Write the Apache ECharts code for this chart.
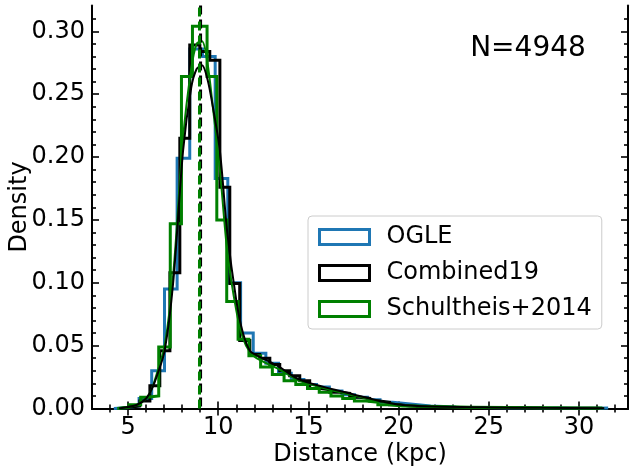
<!DOCTYPE html>
<html><head><meta charset="utf-8">
<script src="https://cdn.jsdelivr.net/npm/echarts@6/dist/echarts.min.js"></script>
<style>html,body{margin:0;padding:0;background:#fff}#c{width:630px;height:471px}</style>
</head><body><div id="c"></div>
<script>
// ---- data ----
const xTicks = [5, 10, 15, 20, 25, 30];
const xMinorTicks = [4,6,7,8,9,11,12,13,14,16,17,18,19,21,22,23,24,26,27,28,29,31,32];
const yTicks = [0, 0.05, 0.10, 0.15, 0.20, 0.25, 0.30];
const yMinorTicks = [0.01,0.02,0.03,0.04,0.06,0.07,0.08,0.09,0.11,0.12,0.13,0.14,0.16,0.17,0.18,0.19,0.21,0.22,0.23,0.24,0.26,0.27,0.28,0.29,0.31];

// OGLE histogram: bin edges and densities
const ogleEdges = [4.21,4.91,5.61,6.31,7.02,7.72,8.42,9.13,9.83,10.53,11.24,11.94,12.64,13.34,14.05,14.75,15.45,16.16,16.86,17.56,18.27,18.97,19.67,20.37,21.08,21.78,22.48,23.19,23.89,24.59,25.29,26.00,26.70,27.40,28.11,28.81,29.51,30.21,30.92,31.62];
const ogleDens  = [0.0005,0.002,0.008,0.030,0.095,0.199,0.286,0.280,0.183,0.100,0.060,0.044,0.036,0.028,0.023,0.019,0.017,0.014,0.011,0.009,0.007,0.005,0.004,0.003,0.002,0.0015,0.001,0.0008,0.0008,0.0005,0.0004,0.0005,0.0003,0.0002,0.0003,0.0002,0.0001,0.0002,0.0003];

// Combined19 histogram
const combEdges = [4.55,5.10,5.65,6.21,6.76,7.32,7.87,8.42,8.98,9.53,10.09,10.64,11.19,11.75,12.30,12.86,13.41,13.96,14.52,15.07,15.63,16.18,16.73,17.29,17.84,18.40,18.95,19.50,20.06,20.61,21.17,21.72,22.27,22.83,23.38,23.94,24.49,25.04,25.60,26.15,26.71,27.26,27.81,28.37,28.92,29.48,30.03,30.58,31.14];
const combDens  = [0.001,0.002,0.006,0.018,0.046,0.108,0.215,0.289,0.284,0.277,0.176,0.0995,0.054,0.043,0.040,0.035,0.030,0.026,0.022,0.016,0.015,0.013,0.012,0.009,0.008,0.006,0.005,0.003,0.002,0.0015,0.0012,0.001,0.0008,0.0007,0.0006,0.0005,0.0004,0.0004,0.0003,0.0003,0.0002,0.0002,0.0002,0.0001,0.0002,0.0001,0.0001,0.0002];

// Schultheis+2014 histogram
const schuEdges = [4.40,5.05,5.70,6.05,6.70,7.34,7.96,8.57,9.38,9.92,10.47,11.10,11.70,12.35,13.00,13.65,14.30,14.95,15.60,16.25,16.90,17.55,18.20,18.85,19.50,20.20,22.00,24.00,26.00,28.00,30.00,31.30];
const schuDens  = [0.001,0.003,0.009,0.010,0.049,0.147,0.264,0.304,0.264,0.150,0.085,0.055,0.042,0.033,0.027,0.022,0.019,0.016,0.013,0.010,0.008,0.006,0.005,0.003,0.002,0.0015,0.001,0.0008,0.0006,0.0004,0.0003];

// KDE curves
const kdeX = [4.5,5.5,6.0,6.3,6.6,7.03,7.5,8.05,8.5,8.8,9.1,9.4,9.7,10.09,10.5,11.0,11.37,11.75,12.12,13.4,14.5,17.3,20.1,24.7,28.0,31.4];
const kdeY = [0.0,0.003,0.008,0.015,0.026,0.046,0.100,0.205,0.255,0.270,0.273,0.262,0.240,0.205,0.140,0.086,0.060,0.046,0.0425,0.033,0.023,0.012,0.003,0.001,0.0005,0.0002];
const greenKdeY = [0.0,0.003,0.008,0.015,0.028,0.050,0.106,0.215,0.270,0.290,0.292,0.275,0.240,0.190,0.125,0.078,0.056,0.045,0.040,0.031,0.022,0.011,0.003,0.001,0.0005,0.0002];

const vlineBlack = 9.02;
const vlineGreen = 8.96;
const nLabel = 'N=4948';

// ---- build ----
function stepPoints(edges, dens) {
  const pts = [[edges[0], 0]];
  for (let i = 0; i < dens.length; i++) {
    pts.push([edges[i], dens[i]]);
    pts.push([edges[i + 1], dens[i]]);
  }
  pts.push([edges[dens.length], 0]);
  return pts;
}
const zip = (a, b) => a.map((v, i) => [v, b[i]]);

const XMIN = 3.0, XMAX = 32.72, YMIN = 0, YMAX = 0.3205;
const FONT = 'DejaVu Sans';
const FS = 24;
const axisLine = {show: true, lineStyle: {color: '#000', width: 2}};
function xAxisDef(pos, values, len, labels, line) {
  return {
    type: 'value', position: pos, min: XMIN, max: XMAX, interval: 5,
    axisLine: line ? axisLine : {show: false},
    splitLine: {show: false},
    axisTick: {show: true, inside: true, length: len, customValues: values, lineStyle: {color: '#000', width: 1.6}},
    axisLabel: labels ? {show: true, customValues: values, color: '#000', fontSize: FS, fontFamily: FONT, margin: 7,
      formatter: v => String(v)} : {show: false},
    name: labels ? 'Distance (kpc)' : '', nameLocation: 'middle', nameGap: 34, nameMoveOverlap: false,
    nameTextStyle: {color: '#000', fontSize: FS, fontFamily: FONT}
  };
}
function yAxisDef(pos, values, len, labels, line) {
  return {
    type: 'value', position: pos, min: YMIN, max: YMAX, interval: 0.05,
    axisLine: line ? axisLine : {show: false},
    splitLine: {show: false},
    axisTick: {show: true, inside: true, length: len, customValues: values, lineStyle: {color: '#000', width: 1.6}},
    axisLabel: labels ? {show: true, customValues: values, color: '#000', fontSize: FS, fontFamily: FONT, margin: 7,
      formatter: v => v.toFixed(2)} : {show: false},
    name: labels ? 'Density' : '', nameLocation: 'middle', nameGap: 60, nameRotate: 90, nameMoveOverlap: false,
    nameTextStyle: {color: '#000', fontSize: FS, fontFamily: FONT}
  };
}

const chart = echarts.init(document.getElementById('c'), null, {renderer: 'canvas'});
const hist = (name, color, edges, dens, z) => ({
  name, type: 'line', data: stepPoints(edges, dens), symbol: 'none', smooth: false,
  lineStyle: {color, width: 3, join: 'miter'}, itemStyle: {color}, z, silent: true, animation: false
});
const opt = {
  animation: false,
  grid: {left: 92, right: 2, top: 5.5, bottom: 62.5, containLabel: false, outerBoundsMode: 'none'},
  xAxis: [
    xAxisDef('bottom', xTicks, 7, true, true),
    xAxisDef('bottom', xMinorTicks, 4, false, false),
    xAxisDef('top', xTicks, 7, false, true),
    xAxisDef('top', xMinorTicks, 4, false, false)
  ],
  yAxis: [
    yAxisDef('left', yTicks, 7, true, true),
    yAxisDef('left', yMinorTicks, 4, false, false),
    yAxisDef('right', yTicks, 7, false, true),
    yAxisDef('right', yMinorTicks, 4, false, false)
  ],
  legend: {
    show: true, orient: 'vertical', left: 308, top: 216,
    padding: [9, 10, 8, 10], itemGap: 12, itemWidth: 50, itemHeight: 15,
    backgroundColor: 'rgba(255,255,255,0.8)', borderColor: '#cccccc', borderWidth: 1, borderRadius: 4,
    textStyle: {color: '#000', fontSize: FS, fontFamily: FONT, lineHeight: 24, padding: [0, 0, 0, 12]},
    data: [
      {name: 'OGLE', icon: 'rect', itemStyle: {color: 'rgba(0,0,0,0)', borderColor: '#1f77b4', borderWidth: 3}},
      {name: 'Combined19', icon: 'rect', itemStyle: {color: 'rgba(0,0,0,0)', borderColor: '#000000', borderWidth: 3}},
      {name: 'Schultheis+2014', icon: 'rect', itemStyle: {color: 'rgba(0,0,0,0)', borderColor: '#008000', borderWidth: 3}}
    ]
  },
  graphic: [{type: 'text', x: 528, y: 49, style: {text: nLabel, fontSize: 28, fontFamily: FONT, fill: '#000', align: 'center', verticalAlign: 'middle'}}],
  series: [
    hist('OGLE', '#1f77b4', ogleEdges, ogleDens, 2),
    hist('Combined19', '#000000', combEdges, combDens, 3),
    hist('Schultheis+2014', '#008000', schuEdges, schuDens, 4),
    {name: 'kdeGreen', type: 'line', data: zip(kdeX, greenKdeY), symbol: 'none', smooth: 0.3,
      lineStyle: {color: '#008000', width: 2}, z: 5, silent: true},
    {name: 'kdeBlack', type: 'line', data: zip(kdeX, kdeY), symbol: 'none', smooth: 0.3,
      lineStyle: {color: '#000', width: 2}, z: 6, silent: true},
    {name: 'vBlack', type: 'line', data: [[vlineBlack, YMAX], [vlineBlack, YMIN]], symbol: 'none',
      lineStyle: {color: '#000', width: 3, type: [9, 5]}, z: 7, silent: true},
    {name: 'vGreen', type: 'line', data: [[vlineGreen, YMIN], [vlineGreen, YMAX]], symbol: 'none',
      lineStyle: {color: '#008000', width: 3, type: [9, 5]}, z: 8, silent: true}
  ]
};
chart.setOption(opt);
</script></body></html>
